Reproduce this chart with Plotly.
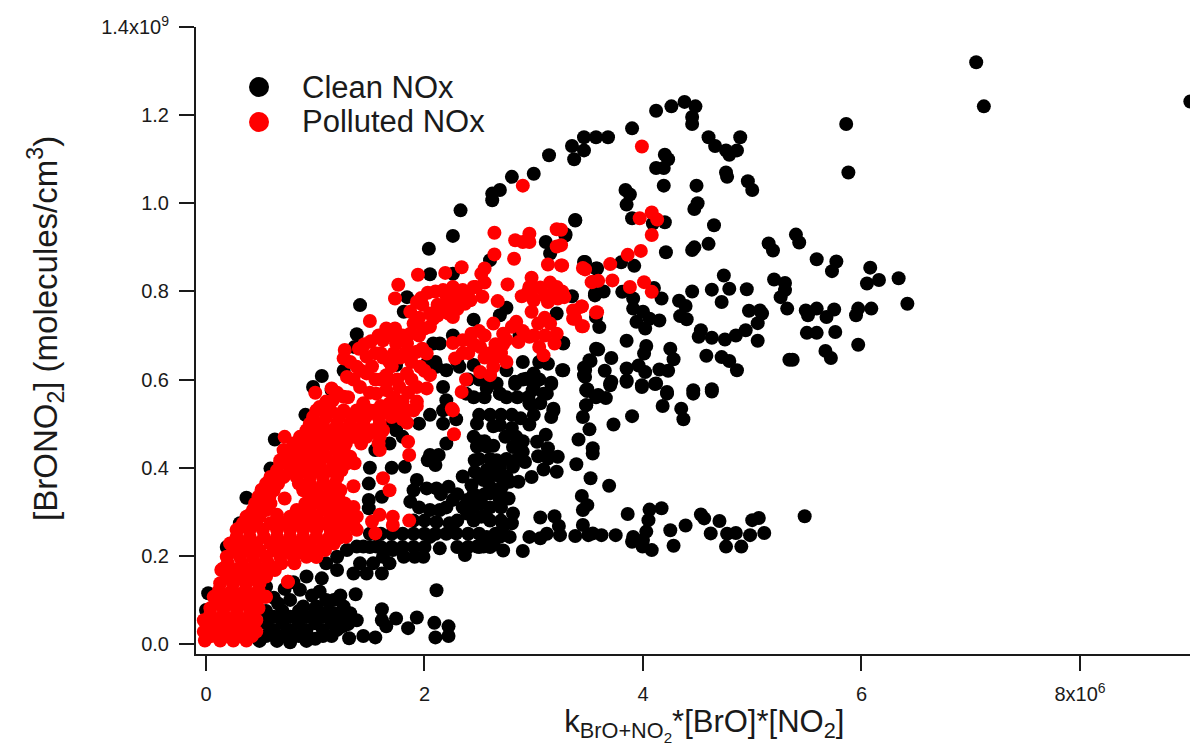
import plotly.graph_objects as go

clean_upper = [(4.12,1.21),(4.26,1.22),(4.38,1.23),(4.48,1.22),(4.45,1.196),(4.45,1.18),(3.90,1.17),(3.68,1.15),(3.57,1.15),(3.46,1.15),(3.35,1.13),(3.46,1.12),(3.37,1.10),(4.60,1.15),(4.66,1.13),(4.76,1.12),(4.79,1.11),(4.86,1.12),(4.89,1.15),(4.20,1.11),(4.23,1.10),(4.19,1.08),(4.12,1.08),(4.19,1.04),(4.49,1.04),(4.76,1.07),(4.77,1.06),(4.96,1.05),(5.0,1.03),(3.84,1.03),(3.88,1.02),(3.85,0.997),(4.50,1.0),(4.47,0.987),(5.86,1.18),(5.88,1.07),(3.38,0.962),(3.90,0.966),(4.20,0.957),(4.09,0.954),(4.65,0.95),(3.29,0.93),(4.60,0.908),(4.47,0.90),(4.45,0.894),(4.21,0.889),(5.15,0.909),(5.19,0.893),(5.40,0.929),(5.43,0.911),(5.59,0.873),(5.77,0.868),(5.73,0.846),(6.08,0.854),(6.16,0.826),(6.05,0.818),(6.34,0.830),(6.42,0.772),(7.05,1.32),(7.12,1.22),(9.01,1.231),(3.14,1.109)]
clean_mid = [(3.46,0.867),(3.58,0.852),(3.80,0.866),(3.92,0.858),(4.74,0.836),(5.20,0.827),(5.30,0.819),(4.79,0.806),(4.63,0.804),(4.95,0.805),(4.45,0.80),(5.30,0.803),(5.26,0.787),(4.72,0.776),(3.64,0.80),(3.56,0.791),(3.81,0.799),(3.91,0.784),(4.17,0.784),(4.10,0.808),(4.33,0.779),(4.39,0.767),(4.34,0.744),(4.40,0.737),(3.91,0.761),(4.0,0.754),(3.94,0.731),(4.02,0.716),(4.15,0.734),(4.06,0.738),(3.60,0.719),(4.97,0.756),(5.07,0.757),(5.09,0.75),(5.05,0.728),(5.32,0.761),(5.49,0.757),(5.59,0.761),(5.51,0.746),(5.68,0.742),(5.75,0.759),(5.97,0.761),(5.95,0.746),(6.09,0.761),(4.53,0.712),(4.51,0.697),(4.63,0.695),(4.75,0.691),(4.85,0.70),(4.94,0.712),(5.05,0.688),(5.50,0.706),(5.59,0.706),(5.76,0.708),(5.97,0.679),(5.67,0.665),(5.72,0.649),(5.34,0.645),(5.37,0.645),(4.58,0.654),(4.72,0.651),(4.79,0.642),(4.86,0.621),(3.85,0.688),(3.59,0.668),(3.71,0.649),(4.03,0.676),(4.01,0.659),(4.25,0.67),(4.28,0.646),(3.52,0.642),(3.46,0.627),(3.46,0.61),(3.27,0.621),(3.27,0.682),(3.65,0.62),(3.71,0.595),(3.85,0.625),(3.96,0.632),(4.02,0.617),(3.85,0.598),(4.15,0.623),(4.23,0.62),(3.99,0.587),(4.12,0.591),(3.49,0.578),(3.70,0.587),(4.46,0.576),(4.63,0.578),(4.22,0.572)]
clean_right = [(4.63,0.573),(4.46,0.568),(4.22,0.568),(4.18,0.54),(4.35,0.534),(4.37,0.51),(4.11,0.59),(3.99,0.583),(3.85,0.595),(3.70,0.591),(3.49,0.574),(3.59,0.565),(3.66,0.558),(3.48,0.542),(3.45,0.515),(3.90,0.517),(3.73,0.498),(3.51,0.487),(3.41,0.464),(3.54,0.444),(3.54,0.432),(3.39,0.408),(3.52,0.376),(3.69,0.359),(3.44,0.336),(3.49,0.315),(3.45,0.304)]
clean_band = [(4.17,0.308),(4.06,0.305),(3.86,0.295),(4.05,0.281),(4.03,0.255),(3.91,0.243),(3.90,0.232),(4.0,0.236),(4.08,0.213),(3.996,0.221),(4.25,0.258),(4.39,0.269),(4.28,0.223),(4.53,0.294),(4.56,0.285),(4.70,0.279),(4.62,0.251),(4.77,0.25),(4.85,0.252),(4.76,0.221),(4.90,0.221),(4.98,0.247),(5.0,0.281),(5.06,0.286),(5.11,0.252),(5.48,0.29),(3.75,0.247),(3.62,0.247),(3.54,0.251),(3.50,0.247),(3.45,0.27),(3.38,0.245),(3.24,0.247),(3.23,0.268),(3.19,0.29),(3.06,0.287),(3.12,0.25),(3.06,0.24),(2.96,0.243),(2.90,0.211),(2.72,0.212)]
clean_core = [(2.81,0.296),(2.80,0.274),(2.72,0.266),(2.78,0.243),(2.69,0.243),(2.57,0.243),(2.54,0.221),(2.63,0.225),(2.77,0.33),(2.69,0.326),(2.60,0.342),(2.71,0.357),(2.60,0.357),(2.86,0.368),(2.98,0.379),(2.78,0.368),(2.69,0.38),(2.58,0.395),(2.69,0.399),(2.81,0.402),(2.66,0.417),(2.92,0.413),(2.90,0.436),(3.21,0.391),(3.09,0.396),(3.22,0.425),(3.13,0.421),(3.04,0.426),(3.13,0.444),(3.03,0.459),(3.11,0.475),(2.63,0.45),(2.81,0.447),(2.74,0.47),(2.84,0.47),(2.80,0.49),(2.63,0.494),(2.69,0.497),(2.88,0.512),(2.96,0.498),(3.16,0.515),(3.18,0.529),(2.97,0.544),(3.06,0.546),(3.12,0.568),(3.16,0.59),(3.0,0.587),(2.83,0.59),(2.69,0.568),(2.57,0.58),(2.52,0.319),(2.52,0.289)]
clean_low = [(2.11,0.122),(2.09,0.048),(2.22,0.04),(2.22,0.018),(2.10,0.015),(1.93,0.06),(1.85,0.036),(1.74,0.058),(1.61,0.079),(1.61,0.054),(1.65,0.04),(1.55,0.015),(1.44,0.018),(1.31,0.013),(1.37,0.113),(1.38,0.054),(1.32,0.07),(1.17,0.10),(1.26,0.085),(1.20,0.168),(1.06,0.149),(1.04,0.119),(0.92,0.153),(0.86,0.123),(0.77,0.10),(0.66,0.092),(0.62,0.062),(0.77,0.062),(0.92,0.062),(1.07,0.062),(1.23,0.062),(0.62,0.032),(0.77,0.032),(0.92,0.032),(1.07,0.032),(1.20,0.032),(0.49,0.007),(0.65,0.007),(0.77,0.004),(0.92,0.007),(1.07,0.018),(0.89,0.085),(1.01,0.085),(1.17,0.07),(0.55,0.13),(0.02,0.115),(0.0,0.077)]
clean_low_fill = [(0.55,0.018),(0.7,0.018),(0.85,0.018),(1.0,0.012),(1.15,0.018),(0.55,0.047),(0.7,0.047),(0.85,0.047),(1.0,0.047),(1.15,0.047),(1.3,0.045),(0.55,0.075),(0.7,0.075),(0.85,0.075),(1.0,0.075),(1.12,0.075),(1.25,0.04),(0.62,0.105),(0.72,0.125),(0.8,0.14),(0.97,0.11),(1.1,0.1),(1.23,0.11)]
clean_left = [(2.48,0.50),(2.45,0.47),(2.48,0.448),(2.57,0.448),(2.46,0.417),(2.46,0.391),(2.57,0.395),(2.05,0.429),(2.13,0.429),(2.1,0.406),(2.03,0.417),(1.82,0.402),(1.49,0.364),(1.49,0.327),(1.49,0.308),(1.61,0.334),(1.93,0.372),(1.90,0.349),(1.87,0.323),(2.02,0.353),(2.11,0.353),(2.22,0.357),(2.43,0.36),(2.54,0.372),(2.05,0.304),(2.14,0.304),(2.26,0.327),(2.39,0.327),(2.51,0.327),(2.11,0.277),(2.23,0.274),(2.39,0.296),(2.54,0.29),(2.05,0.243),(2.14,0.217),(2.29,0.251),(2.37,0.202),(2.48,0.221),(2.55,0.236),(1.99,0.198),(1.91,0.198),(1.81,0.198),(1.71,0.213),(1.62,0.198),(1.56,0.221),(1.44,0.221),(1.38,0.221),(1.29,0.213),(1.2,0.198),(1.10,0.183),(1.35,0.16),(1.47,0.16),(1.61,0.16),(1.68,0.183),(1.53,0.183),(1.41,0.183),(0.91,0.52),(0.63,0.464),(0.59,0.398),(0.37,0.332),(0.19,0.22),(0.31,0.274),(2.17,0.53),(2.17,0.50),(2.29,0.51),(2.2,0.455),(1.74,0.485),(1.68,0.455)]
clean_core_fill = [(1.5,0.22),(1.6,0.22),(1.7,0.22),(1.8,0.22),(1.9,0.22),(2.0,0.22),(2.3,0.22),(2.4,0.22),(2.5,0.22),(2.6,0.22),(1.5,0.25),(1.6,0.25),(1.7,0.25),(1.8,0.25),(1.9,0.25),(2.0,0.25),(2.1,0.25),(2.2,0.25),(2.4,0.25),(2.5,0.25),(2.65,0.25),(1.9,0.28),(2.0,0.28),(2.3,0.28),(2.45,0.28),(2.6,0.28),(2.7,0.28),(1.95,0.31),(2.2,0.31),(2.35,0.31),(2.45,0.31),(2.6,0.31),(2.7,0.31),(2.15,0.34),(2.3,0.34),(2.45,0.34),(2.55,0.34),(2.7,0.34),(2.35,0.38),(2.5,0.38),(2.6,0.38),(2.75,0.38),(2.5,0.42),(2.6,0.42),(2.75,0.42),(2.85,0.42),(2.5,0.46),(2.55,0.46),(2.9,0.46),(2.5,0.52),(2.6,0.52),(2.7,0.52),(2.8,0.52),(3.0,0.52),(2.45,0.56),(2.55,0.56),(2.75,0.56),(2.85,0.56),(2.95,0.56),(2.4,0.6),(2.5,0.6),(2.6,0.6),(2.9,0.6),(3.05,0.6),(2.1,0.64),(2.3,0.64),(2.9,0.64),(3.05,0.64),(1.5,0.40),(1.55,0.44),(1.7,0.40),(1.7,0.5),(1.8,0.47),(1.95,0.5),(2.05,0.52)]
clean_top = [(2.80,1.06),(3.0,1.067),(2.69,1.03),(2.62,1.022),(2.62,1.007),(2.33,0.984),(2.26,0.926),(2.04,0.897),(3.38,0.961),(1.41,0.769),(3.11,0.912),(3.29,0.927),(3.15,0.886),(2.60,0.871),(3.47,0.867),(3.57,0.852),(3.56,0.795),(3.35,0.789),(2.05,0.839),(2.26,0.84),(1.84,0.787),(1.81,0.754),(1.38,0.703),(1.36,0.674),(1.06,0.608),(0.98,0.583),(1.26,0.62),(1.15,0.576),(2.75,0.763),(2.69,0.746),(3.21,0.75),(2.45,0.736),(3.57,0.742),(3.27,0.683),(3.13,0.636),(3.26,0.621),(3.0,0.614),(3.16,0.593),(2.93,0.602),(2.83,0.595),(2.69,0.568),(2.58,0.591),(2.66,0.591),(2.99,0.576),(3.09,0.568),(2.96,0.546),(3.18,0.534),(3.48,0.576),(3.48,0.542),(3.57,0.56),(3.57,0.67),(3.51,0.644),(3.47,0.621),(3.47,0.606),(2.14,0.682),(2.08,0.682),(2.26,0.70),(2.11,0.629),(2.20,0.621),(2.32,0.629),(2.17,0.583),(2.20,0.553),(2.02,0.636),(1.74,0.633),(2.75,0.621),(2.87,0.70),(2.45,0.633),(2.38,0.568)]

polluted_fill = [(-0.01,0.008),(0.13,0.008),(0.25,0.008),(0.37,0.008),(-0.02,0.028),(0.10,0.028),(0.22,0.028),(0.34,0.028),(0.46,0.028),(-0.02,0.054),(0.10,0.054),(0.22,0.054),(0.34,0.054),(0.46,0.054),(0.04,0.081),(0.16,0.081),(0.28,0.081),(0.40,0.081),(0.48,0.081),(0.07,0.107),(0.19,0.107),(0.31,0.107),(0.43,0.107),(0.55,0.107),(0.13,0.138),(0.25,0.138),(0.37,0.138),(0.49,0.138),(0.14,0.168),(0.27,0.168),(0.39,0.168),(0.51,0.168),(0.63,0.168),(0.75,0.141),(0.19,0.198),(0.31,0.198),(0.43,0.198),(0.55,0.198),(0.68,0.198),(0.80,0.198),(0.92,0.198),(1.01,0.198),(0.22,0.228),(0.34,0.228),(0.46,0.228),(0.59,0.228),(0.71,0.228),(0.83,0.228),(0.95,0.228),(1.07,0.228),(1.17,0.228),(0.28,0.259),(0.40,0.259),(0.52,0.259),(0.65,0.259),(0.77,0.259),(0.89,0.259),(1.01,0.259),(1.14,0.259),(1.26,0.259),(1.38,0.259),(0.37,0.289),(0.49,0.289),(0.77,0.289),(0.89,0.289),(1.01,0.289),(1.14,0.289),(1.26,0.289),(1.38,0.289),(0.45,0.319),(0.59,0.319),(0.91,0.319),(1.03,0.319),(1.15,0.319),(1.27,0.319),(0.51,0.349),(0.62,0.349),(0.89,0.349),(1.01,0.349),(1.14,0.349),(1.23,0.349),(0.59,0.379),(0.71,0.379),(0.83,0.379),(0.95,0.379),(1.07,0.379),(1.20,0.379),(0.68,0.41),(0.80,0.41),(0.92,0.41),(1.04,0.41),(1.17,0.41),(1.29,0.41),(1.36,0.41),(0.71,0.44),(0.83,0.44),(0.95,0.44),(1.07,0.44),(1.19,0.44),(1.26,0.44),(1.59,0.44),(0.86,0.47),(0.98,0.47),(1.1,0.47),(1.23,0.47),(1.35,0.47),(1.47,0.47),(1.59,0.47),(0.95,0.50),(1.07,0.50),(1.2,0.50),(1.32,0.50),(1.44,0.50),(1.59,0.50),(1.01,0.53),(1.14,0.53),(1.26,0.53),(1.38,0.53),(1.5,0.53),(1.68,0.53),(1.74,0.53)]
polluted_fill_between = [(0.05,0.018),(0.18,0.018),(0.3,0.018),(0.42,0.018),(0.04,0.041),(0.16,0.041),(0.28,0.041),(0.4,0.041),(0.04,0.068),(0.16,0.068),(0.28,0.068),(0.4,0.068),(0.1,0.094),(0.22,0.094),(0.34,0.094),(0.46,0.094),(0.12,0.122),(0.24,0.122),(0.36,0.122),(0.48,0.122),(0.19,0.153),(0.31,0.153),(0.43,0.153),(0.55,0.153),(0.2,0.183),(0.33,0.183),(0.45,0.183),(0.57,0.183),(0.69,0.183),(0.81,0.183),(0.25,0.213),(0.37,0.213),(0.49,0.213),(0.62,0.213),(0.74,0.213),(0.86,0.213),(0.98,0.213),(1.09,0.213),(0.28,0.243),(0.4,0.243),(0.53,0.243),(0.65,0.243),(0.77,0.243),(0.89,0.243),(1.01,0.243),(1.13,0.243),(1.28,0.243),(0.34,0.274),(0.46,0.274),(0.59,0.274),(0.71,0.274),(0.83,0.274),(0.95,0.274),(1.07,0.274),(1.2,0.274),(1.32,0.274),(0.43,0.304),(0.55,0.304),(0.83,0.304),(0.95,0.304),(1.08,0.304),(1.2,0.304),(1.32,0.304),(0.48,0.334),(0.58,0.334),(0.97,0.334),(1.09,0.334),(1.21,0.334),(0.55,0.364),(0.66,0.364),(0.85,0.364),(0.95,0.364),(1.07,0.364),(1.18,0.364),(0.65,0.394),(0.77,0.394),(0.89,0.394),(1.01,0.394),(1.13,0.394),(1.24,0.394),(0.74,0.425),(0.86,0.425),(0.98,0.425),(1.1,0.425),(1.22,0.425),(1.32,0.425),(0.8,0.455),(0.92,0.455),(1.04,0.455),(1.16,0.455),(1.28,0.455),(1.42,0.455),(1.58,0.455),(0.92,0.485),(1.04,0.485),(1.16,0.485),(1.28,0.485),(1.4,0.485),(1.52,0.485),(1.62,0.485),(0.98,0.515),(1.1,0.515),(1.22,0.515),(1.34,0.515),(1.46,0.515),(1.58,0.515),(1.7,0.515)]
polluted_edges = [(0.72,0.47),(2.26,0.53),(2.27,0.476),(1.93,0.54),(1.84,0.502),(1.85,0.459),(1.86,0.429),(1.62,0.376),(1.68,0.349),(1.35,0.358),(1.35,0.311),(1.35,0.27),(1.52,0.278),(1.59,0.293),(1.71,0.289),(1.71,0.27),(1.86,0.28),(1.55,0.251),(0.75,0.141),(0.54,0.107),(0.72,0.33),(0.65,0.293),(0.89,0.463),(1.21,0.24),(1.01,0.198),(0.16,0.172),(0.30,0.262),(0.40,0.293),(0.49,0.319),(0.51,0.35),(0.60,0.372),(0.68,0.417),(0.74,0.436)]
polluted_upper = [(2.90,1.04),(2.64,0.933),(2.83,0.916),(2.96,0.931),(2.96,0.912),(2.90,0.912),(3.21,0.941),(3.21,0.902),(2.64,0.884),(2.82,0.874),(3.13,0.861),(3.25,0.859),(3.45,0.853),(3.54,0.822),(2.34,0.855),(2.19,0.842),(1.94,0.838),(2.55,0.852),(2.52,0.84),(2.55,0.82),(1.76,0.815),(1.73,0.784),(2.76,0.816),(2.98,0.831),(2.96,0.81),(3.06,0.809),(2.89,0.789),(2.98,0.789),(3.21,0.81),(3.27,0.791),(3.13,0.776),(3.22,0.784),(2.67,0.778),(2.53,0.788),(2.45,0.81),(2.35,0.803),(2.26,0.81),(2.17,0.803),(2.03,0.797),(1.93,0.776),(1.87,0.754),(2.37,0.772),(2.17,0.757),(2.26,0.742),(2.08,0.738),(2.0,0.716),(1.90,0.727),(1.87,0.704),(1.73,0.716),(1.65,0.716),(1.74,0.682),(1.62,0.689),(1.51,0.687),(1.50,0.733),(1.27,0.667),(1.26,0.648),(3.44,0.766),(3.38,0.757),(3.36,0.738),(3.45,0.721),(3.57,0.752),(2.98,0.754),(2.84,0.731),(2.63,0.727),(2.72,0.704),(2.43,0.704),(2.35,0.689),(2.26,0.683),(2.51,0.674),(2.72,0.68),(2.86,0.685),(2.96,0.697),(3.04,0.727),(3.15,0.727),(3.21,0.704),(3.19,0.682),(3.05,0.674),(3.09,0.655),(2.69,0.659),(2.75,0.64),(2.63,0.629),(2.51,0.617),(2.28,0.648),(1.84,0.682),(1.93,0.663),(2.02,0.659),(1.62,0.65),(1.96,0.629),(1.84,0.614),(1.65,0.61),(1.93,0.583),(2.02,0.58),(1.77,0.583),(1.65,0.576),(1.68,0.546),(1.93,0.55),(1.56,0.568),(1.47,0.652),(1.38,0.629),(1.47,0.614),(1.29,0.606),(1.41,0.583),(1.26,0.561),(1.16,0.553),(1.44,0.546),(1.0,0.57),(1.04,0.538),(2.38,0.6),(2.34,0.572),(2.25,0.534)]
polluted_dense = [(1.2,0.57),(1.3,0.56),(1.35,0.6),(1.42,0.62),(1.5,0.57),(1.55,0.6),(1.6,0.54),(1.72,0.56),(1.8,0.55),(1.85,0.57),(1.88,0.6),(1.9,0.53),(2.0,0.62),(1.32,0.64),(1.4,0.67),(1.55,0.66),(1.7,0.63),(1.78,0.65),(1.88,0.64),(1.98,0.67),(2.05,0.61),(1.7,0.7),(1.8,0.7),(1.95,0.7),(1.95,0.74),(2.05,0.75),(2.12,0.77),(2.22,0.77),(2.3,0.79),(2.42,0.78),(1.98,0.77),(1.97,0.785),(2.1,0.8),(2.2,0.79),(2.3,0.77),(2.4,0.79),(2.47,0.81),(2.05,0.72),(2.12,0.745),(2.22,0.75),(2.3,0.76),(2.9,0.71),(3.0,0.7),(3.1,0.7),(3.1,0.74),(2.8,0.72),(2.75,0.69),(2.65,0.68),(2.6,0.66),(2.55,0.65),(2.45,0.68),(2.4,0.66),(2.35,0.66),(2.55,0.7),(2.5,0.71),(2.65,0.65),(2.7,0.66),(2.6,0.61),(3.1,0.79),(3.18,0.8),(3.15,0.82),(2.95,0.8),(3.0,0.78),(1.1,0.55),(1.15,0.58),(1.55,0.53),(1.52,0.63),(1.6,0.6),(1.68,0.6),(1.72,0.66),(1.6,0.66),(1.45,0.68),(1.58,0.7),(1.75,0.6),(1.68,0.64),(1.82,0.66),(1.85,0.53),(1.7,0.52),(1.8,0.51),(1.9,0.66)]
polluted_right = [(3.99,1.129),(3.97,0.966),(4.08,0.979),(4.13,0.963),(4.08,0.928),(3.98,0.892),(3.86,0.883),(3.70,0.862),(3.47,0.85),(3.72,0.825),(3.53,0.821),(3.59,0.824),(3.88,0.81),(4.01,0.821),(4.08,0.799),(3.58,0.753),(3.44,0.766),(3.36,0.757),(3.38,0.738),(3.44,0.721),(3.26,0.859),(3.26,0.80),(3.28,0.787),(3.25,0.94),(3.25,0.905)]

clean = clean_upper + clean_mid + clean_right + clean_band + clean_core + clean_low + clean_low_fill + clean_left + clean_core_fill + clean_top
polluted = polluted_fill + polluted_fill_between + polluted_edges + polluted_upper + polluted_dense + polluted_right
clean_x = [p[0] for p in clean]
clean_y = [p[1] for p in clean]
polluted_x = [p[0] for p in polluted]
polluted_y = [p[1] for p in polluted]

x_ticks = [0, 2, 4, 6, 8]
x_tick_labels = ["0", "2", "4", "6", "8x10<sup>6</sup>"]
y_ticks = [0, 0.2, 0.4, 0.6, 0.8, 1.0, 1.2, 1.4]
y_tick_labels = ["0.0", "0.2", "0.4", "0.6", "0.8", "1.0", "1.2", "1.4x10<sup>9</sup>"]
legend_labels = ["Clean NOx", "Polluted NOx"]
series_colors = ["#000000", "#ff0000"]

FONT = "Liberation Sans, Arial, DejaVu Sans, sans-serif"
INK = "#1a1a1a"
BLANK = "\u2800"

fig = go.Figure()
fig.add_trace(go.Scatter(x=clean_x, y=clean_y, mode="markers", name=legend_labels[0],
                         marker=dict(color=series_colors[0], size=14)))
fig.add_trace(go.Scatter(x=polluted_x, y=polluted_y, mode="markers", name=legend_labels[1],
                         marker=dict(color=series_colors[1], size=14)))

axis_common = dict(showgrid=False, zeroline=False, showline=True, linecolor=INK, linewidth=2,
                   ticks="outside", tickcolor=INK, tickwidth=2, ticklen=15,
                   tickfont=dict(family=FONT, size=20, color=INK))

fig.update_xaxes(range=[-0.0915, 9.007], tickvals=x_ticks, ticktext=x_tick_labels, ticklabelstandoff=6,
                 title=dict(text=BLANK + "k<sub>BrO+NO<sub>2</sub></sub>*[BrO]*[NO<sub>2</sub>]",
                            font=dict(family=FONT, size=31, color=INK), standoff=7),
                 **axis_common)
fig.update_yaxes(range=[-0.0227, 1.4], tickvals=y_ticks, ticktext=y_tick_labels, ticklabelstandoff=6,
                 title=dict(text=BLANK + "[BrONO<sub>2</sub>] (molecules/cm<sup>3</sup>)",
                            font=dict(family=FONT, size=33, color=INK), standoff=34),
                 **axis_common)

key_r = 10
key_pos = [(0.0634, 0.9043), (0.0634, 0.8485)]
fig.update_layout(width=1190, height=746, margin=dict(l=196, r=0, t=27, b=92),
                  paper_bgcolor="white", plot_bgcolor="white", font=dict(family=FONT, color=INK),
                  showlegend=False,
                  shapes=[dict(type="circle", xref="paper", yref="paper", xsizemode="pixel", ysizemode="pixel",
                               xanchor=p[0], yanchor=p[1], x0=-key_r, x1=key_r, y0=-key_r, y1=key_r,
                               fillcolor=c, line_width=0) for p, c in zip(key_pos, series_colors)],
                  annotations=[dict(text=t, xref="paper", yref="paper", x=0.1046, y=p[1], xanchor="left",
                                    yanchor="middle", showarrow=False, font=dict(family=FONT, size=31, color=INK))
                               for p, t in zip(key_pos, legend_labels)])
fig.write_html("out.html", config=dict(displayModeBar=False), post_script="document.body.style.margin='0';")
